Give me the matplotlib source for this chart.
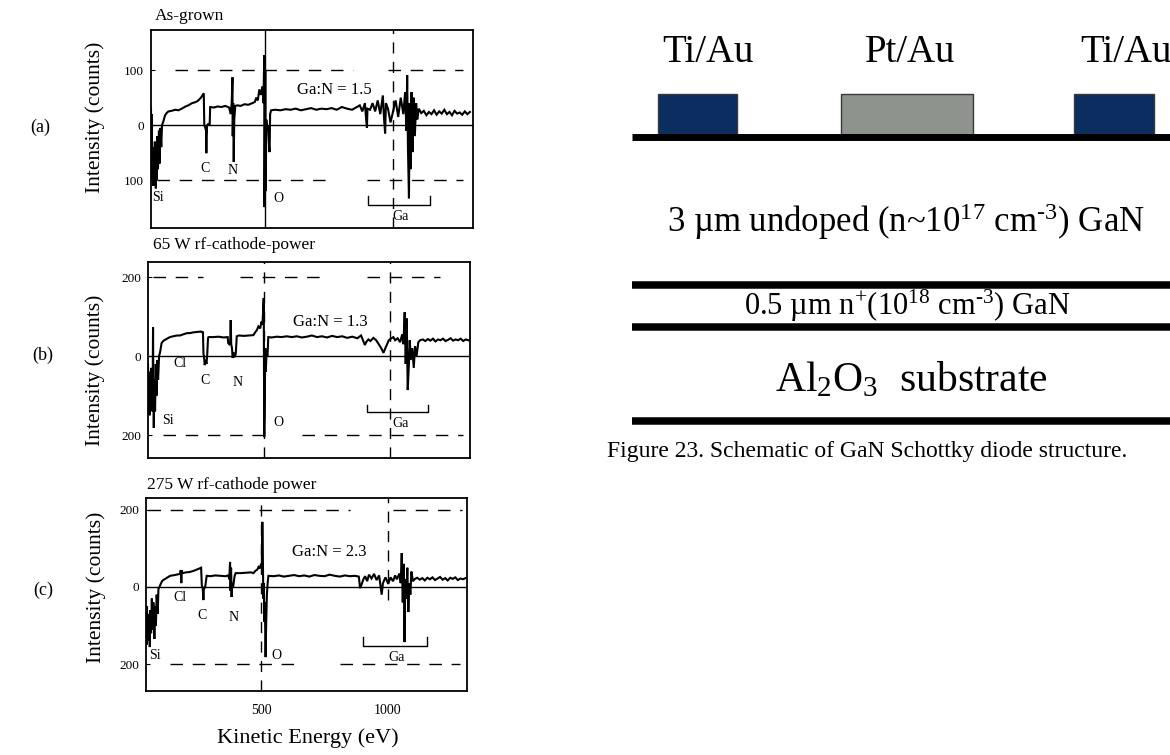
import numpy as np
import matplotlib
matplotlib.use("Agg")
import matplotlib.pyplot as plt
from matplotlib.patches import Rectangle

plt.rcParams["font.family"] = ["Liberation Serif", "DejaVu Serif"]
plt.rcParams["mathtext.fontset"] = "custom"
plt.rcParams["mathtext.rm"] = "Liberation Serif"
plt.rcParams["mathtext.it"] = "Liberation Serif:italic"
plt.rcParams["mathtext.bf"] = "Liberation Serif:bold"

# --- AES spectra (kinetic energy in eV, intensity in counts) ---
PANEL_TAGS = ["(a)", "(b)", "(c)"]
PANEL_TITLES = ["As-grown", "65 W rf-cathode-power", "275 W rf-cathode power"]
GA_N_RATIO = [1.5, 1.3, 2.3]
REF_LEVEL = [100, 200, 200]
XTICKS = [500, 1000]
XTICK_LABELS = ["500", "1000"]

SPEC_A = [
    (55, 30), (56, -60), (58, 20), (60, -100), (62, -40), (64, -110), (66, -60),
    (68, -105), (70, -30), (72, -90), (74, -115), (76, -50), (78, -100), (80, -20),
    (82, -80), (84, -60), (86, -10), (88, -70), (90, -30), (92, -5), (95, -40),
    (98, 0), (102, 5), (110, 18), (116, 22), (123, 25), (135, 26), (150, 28),
    (162, 27), (175, 30), (190, 34), (201, 36), (215, 40), (230, 42), (240, 45),
    (250, 50), (258, 56), (261, 58), (263, 0), (265, -2), (270, -10), (271, -51),
    (272, -20), (274, 0), (278, 2), (284, 0), (286, 33), (300, 32), (315, 34),
    (330, 33), (345, 35), (360, 32), (366, 20), (370, 40), (373, 87), (374, -20),
    (376, 40), (378, -67), (380, 10), (384, 35), (392, 36), (405, 35), (420, 38),
    (435, 37), (450, 40), (460, 42), (466, 50), (472, 45), (478, 65), (484, 55),
    (490, 70), (494, 40), (497, 127), (498, -149), (499, -80), (501, 100),
    (503, -120), (505, 10), (508, -5), (512, 0), (516, -40), (518, -49), (520, 20),
    (524, 27), (540, 28), (560, 27), (580, 29), (600, 28), (620, 30), (640, 27),
    (660, 29), (680, 31), (700, 28), (720, 30), (740, 29), (760, 31), (780, 28),
    (800, 33), (820, 30), (840, 28), (855, 32), (870, 36), (880, 25), (890, 40),
    (895, 10), (898, -5), (900, 30), (910, 28), (920, 40), (930, 25), (940, 45),
    (950, 20), (960, 54), (965, 10), (969, -15), (972, 40), (980, 30), (990, 5),
    (1000, 25), (1010, 45), (1020, 15), (1030, 50), (1040, 20), (1047, 60),
    (1052, -10), (1055, 91), (1058, -40), (1062, -133), (1065, 40), (1068, -80),
    (1072, 60), (1076, -49), (1080, 50), (1085, -20), (1090, 40), (1095, 10),
    (1100, 30), (1110, 22), (1120, 26), (1130, 18), (1140, 24), (1150, 20),
    (1160, 27), (1170, 19), (1180, 25), (1190, 21), (1200, 28), (1210, 20),
    (1220, 24), (1230, 18), (1240, 26), (1250, 21), (1260, 23), (1270, 19),
    (1280, 25), (1290, 20), (1300, 24),
]

SPEC_B = [
    (40, -20), (42, -120), (44, -40), (46, -150), (48, -60), (50, -130), (52, -30),
    (54, -110), (56, -70), (58, -140), (60, 73), (61, -50), (63, -182), (65, -60),
    (68, -140), (71, -20), (74, -100), (77, -10), (80, -60), (84, 0), (88, 10),
    (94, 33), (100, 38), (110, 42), (127, 48), (140, 50), (155, 52), (167, 52),
    (180, 55), (195, 58), (206, 58), (220, 60), (235, 61), (250, 62), (255, 60),
    (258, 62), (260, 5), (262, 0), (265, -23), (268, -10), (272, -20), (275, 5),
    (278, 45), (280, 48), (300, 48), (320, 49), (340, 47), (356, 48), (358, 33),
    (362, 30), (366, 35), (368, 91), (370, 30), (373, 20), (376, -5), (378, 10),
    (382, -3), (388, 5), (392, 50), (400, 52), (420, 51), (440, 52), (458, 53),
    (465, 60), (472, 66), (478, 75), (485, 70), (490, 87), (494, 80), (497, 120),
    (499, 147), (501, -205), (503, -120), (505, 20), (507, -40), (510, 5), (514, 0),
    (517, 48), (530, 47), (550, 49), (570, 48), (590, 50), (610, 48), (630, 50),
    (650, 47), (670, 49), (690, 52), (710, 48), (730, 50), (750, 47), (770, 51),
    (790, 48), (810, 50), (830, 46), (850, 49), (870, 45), (885, 52), (894, 38),
    (900, 28), (906, 36), (914, 42), (922, 38), (934, 46), (945, 40), (955, 30),
    (965, 20), (974, 8), (980, 18), (988, 30), (995, 40), (1005, 45), (1013, 48),
    (1020, 40), (1030, 45), (1040, 35), (1048, 55), (1053, 30), (1058, 111),
    (1062, -20), (1066, 95), (1070, -86), (1074, -30), (1078, 40), (1082, -10),
    (1088, 20), (1094, -30), (1099, 25), (1105, 0), (1112, 35), (1119, 40),
    (1130, 42), (1140, 38), (1150, 43), (1160, 39), (1170, 44), (1180, 37),
    (1190, 42), (1200, 40), (1210, 44), (1220, 38), (1230, 41), (1240, 45),
    (1250, 39), (1260, 42), (1270, 40), (1280, 44), (1290, 38), (1300, 42),
    (1310, 40),
]

SPEC_C = [
    (47, -60), (49, -150), (51, -50), (53, -140), (55, -70), (57, -130), (59, -80),
    (62, -156), (64, -60), (67, -120), (70, -30), (73, -110), (76, -40), (80, -135),
    (83, -50), (86, -100), (89, -20), (93, -70), (96, -5), (100, 0), (105, 8),
    (110, 15), (115, 18), (125, 22), (142, 29), (160, 31), (175, 33), (181, 34),
    (184, 44), (186, 10), (188, 44), (190, 36), (205, 38), (220, 39), (235, 42),
    (250, 46), (260, 49), (264, 50), (267, 2), (270, 0), (272, -20), (273, -34),
    (275, -5), (280, 0), (286, 29), (300, 28), (320, 30), (340, 29), (360, 28),
    (371, 30), (375, 20), (378, 65), (380, -10), (382, 50), (384, -26), (386, 10),
    (390, 0), (396, 29), (400, 36), (420, 36), (440, 37), (460, 38), (470, 36),
    (478, 42), (485, 45), (490, 52), (495, 48), (500, 60), (503, 52), (505, 169),
    (507, 90), (509, -30), (511, 10), (513, -90), (515, -40), (518, -182),
    (520, -100), (523, -20), (526, 10), (529, 29), (550, 28), (570, 30), (590, 27),
    (610, 29), (630, 31), (650, 28), (670, 30), (690, 27), (710, 31), (730, 29),
    (750, 28), (770, 32), (790, 29), (810, 27), (830, 30), (850, 28), (870, 29),
    (885, 27), (890, -3), (895, 5), (903, 20), (910, 28), (918, 15), (925, 32),
    (935, 22), (945, 34), (955, 18), (965, 30), (970, 5), (975, -20), (980, 10),
    (990, 25), (1001, 8), (1010, 25), (1020, 15), (1028, 30), (1035, 20),
    (1045, 35), (1050, 10), (1054, 88), (1058, -40), (1062, 60), (1065, -143),
    (1068, 20), (1072, -30), (1076, 50), (1080, -65), (1084, 10), (1088, -20),
    (1092, 40), (1098, 15), (1106, 21), (1115, 24), (1125, 19), (1135, 23),
    (1145, 17), (1155, 24), (1165, 20), (1175, 25), (1185, 18), (1195, 22),
    (1205, 26), (1215, 19), (1225, 23), (1235, 17), (1245, 24), (1255, 21),
    (1265, 25), (1275, 18), (1285, 22), (1295, 20), (1305, 23),
]

# --- device schematic ---
CONTACT_NAMES = ["Ti/Au", "Pt/Au", "Ti/Au"]
CONTACT_COLORS = ["#0b2d5f", "#8e938d", "#0b2d5f"]
LAYER_TEXT = [
    "3 \u00b5m undoped (n~10$^{17}$ cm$^{\\text{-3}}$) GaN",
    "0.5 \u00b5m n$^{+}$(10$^{18}$ cm$^{\\text{-3}}$) GaN",
    "Al$_{2}$O$_{3}$  substrate",
]
CAPTION = "Figure 23. Schematic of GaN Schottky diode structure."

W, H = 1170, 755


def fx(x):
    return x / W


def fy(y):
    return 1 - y / H


def box(l, t, r, b):
    return [fx(l), fy(b), (r - l) / W, (b - t) / H]


# per-panel layout (pixel boxes, limits and annotation anchors)
LAYOUT = [
    dict(box=(151, 30, 473, 228), xlim=(55, 1312), ylim=(-187, 173),
         tag=(40, 127), ylab=(95, 117), title=(155, 16), ratio=(625, 64),
         peaks={"Si": (82, -131), "C": (266, -78), "N": (375, -82), "O": (553, -133)},
         bracket=(903, 1145, -145, -128), ga=(1028, -167),
         top=[(149, 844), (981, 1274)], bot=[(78, 766), (899, 1274)],
         vl=[(500, "-", None), (1000, "--", None)]),
    dict(box=(148, 262, 470, 458), xlim=(40, 1317), ylim=(-258, 238),
         tag=(43, 355), ylab=(95, 370), title=(153, 245), ratio=(615, 86),
         peaks={"Si": (120, -162), "Cl": (167, -18), "C": (268, -61),
                "N": (394, -66), "O": (556, -167)},
         bracket=(908, 1152, -142, -125), ga=(1040, -170),
         top=[(60, 260), (405, 734), (909, 1198)], bot=[(100, 496), (651, 1290)],
         vl=[(500, "--", None), (1000, "--", None)]),
    dict(box=(146, 498, 467, 691), xlim=(47, 1311), ylim=(-270, 231),
         tag=(43, 590), ylab=(96, 587), title=(147, 485), ratio=(622, 91),
         peaks={"Si": (82, -177), "Cl": (180, -26), "C": (266, -75),
                "N": (392, -80), "O": (559, -177)},
         bracket=(903, 1152, -153, -130), ga=(1035, -182),
         top=[(55, 850), (1020, 1290)], bot=[(142, 654), (811, 1283)],
         vl=[(500, "--", None), (1000, "--", -34)]),
]

fig = plt.figure(figsize=(W / 100, H / 100), dpi=100)
fig.patch.set_facecolor("white")

dash = (0, (9, 7))
for i, (spec, lay) in enumerate(zip([SPEC_A, SPEC_B, SPEC_C], LAYOUT)):
    e, c = np.array(spec, dtype=float).T
    ax = fig.add_axes(box(*lay["box"]))
    ax.set_xlim(*lay["xlim"])
    ax.set_ylim(*lay["ylim"])
    for s in ax.spines.values():
        s.set_linewidth(1.3)

    ax.axhline(0, color="black", lw=1.0)
    ref = REF_LEVEL[i]
    for a, b in lay["top"]:
        ax.plot([a, b], [ref, ref], color="black", lw=1.0, ls=dash)
    for a, b in lay["bot"]:
        ax.plot([a, b], [-ref, -ref], color="black", lw=1.0, ls=dash)
    for xv, ls, y0 in lay["vl"]:
        lo = lay["ylim"][0] if y0 is None else y0
        ax.plot([xv, xv], [lo, lay["ylim"][1]], color="black", lw=1.0,
                ls=("-" if ls == "-" else (0, (8, 6))))

    ax.plot(e, c, color="black", lw=1.5, solid_joinstyle="miter")

    # Ga LMM bracket
    b0, b1, yb, yt = lay["bracket"]
    ax.plot([b0, b0, b1, b1], [yt, yb, yb, yt], color="black", lw=1.0)
    ax.text(*lay["ga"], "Ga", fontsize=10, ha="center", va="center")
    for name, (px_, py_) in lay["peaks"].items():
        ax.text(px_, py_, name, fontsize=10, ha="center", va="center")
    ax.text(*lay["ratio"], f"Ga:N = {GA_N_RATIO[i]}", fontsize=12,
            ha="left", va="center")

    ax.set_yticks([ref, 0, -ref])
    ax.set_yticklabels([str(ref), "0", str(ref)])
    ax.tick_params(axis="y", direction="in", length=3, labelsize=9.5, pad=5)
    if i == 2:
        ax.set_xticks(XTICKS)
        ax.set_xticklabels(XTICK_LABELS)
        ax.tick_params(axis="x", length=0, labelsize=10, pad=9)
    else:
        ax.set_xticks([])

    fig.text(fx(lay["title"][0]), fy(lay["title"][1]), PANEL_TITLES[i],
             fontsize=12.5, ha="left", va="center")
    fig.text(fx(lay["ylab"][0]), fy(lay["ylab"][1]), "Intensity (counts)",
             fontsize=15.5, rotation=90, ha="center", va="center")
    fig.text(fx(lay["tag"][0]), fy(lay["tag"][1]), PANEL_TAGS[i],
             fontsize=13, ha="center", va="center")

fig.text(fx(308), fy(738), "Kinetic Energy (eV)", fontsize=16,
         ha="center", va="center")

# schematic of the diode, local pixel-like coordinates
axs = fig.add_axes(box(600, 0, 1170, 470))
axs.set_xlim(0, 570)
axs.set_ylim(470, 0)
axs.axis("off")

contact_x = [(58, 137), (241, 373), (474, 554)]
label_x = [108, 310, 526]
for (l, r), col, name, lx in zip(contact_x, CONTACT_COLORS, CONTACT_NAMES, label_x):
    axs.add_patch(Rectangle((l, 94), r - l, 41, facecolor=col,
                            edgecolor="#3a3a3a", lw=1.0, zorder=2))
    axs.text(lx, 53, name, fontsize=28, ha="center", va="center")

axs.plot([32, 570], [137.5, 137.5], color="black", lw=5.0, solid_capstyle="butt", zorder=3)
for yl in (285.5, 327, 421.5):
    axs.plot([32, 570], [yl, yl], color="black", lw=5.4, solid_capstyle="butt")

axs.text(306, 222, LAYER_TEXT[0], fontsize=25, ha="center", va="center")
axs.text(307, 306, LAYER_TEXT[1], fontsize=22, ha="center", va="center")
axs.text(311, 380, LAYER_TEXT[2], fontsize=30, ha="center", va="center")
axs.text(7, 452, CAPTION, fontsize=17, ha="left", va="center")

fig.savefig("out.png", dpi=100, facecolor="white")
